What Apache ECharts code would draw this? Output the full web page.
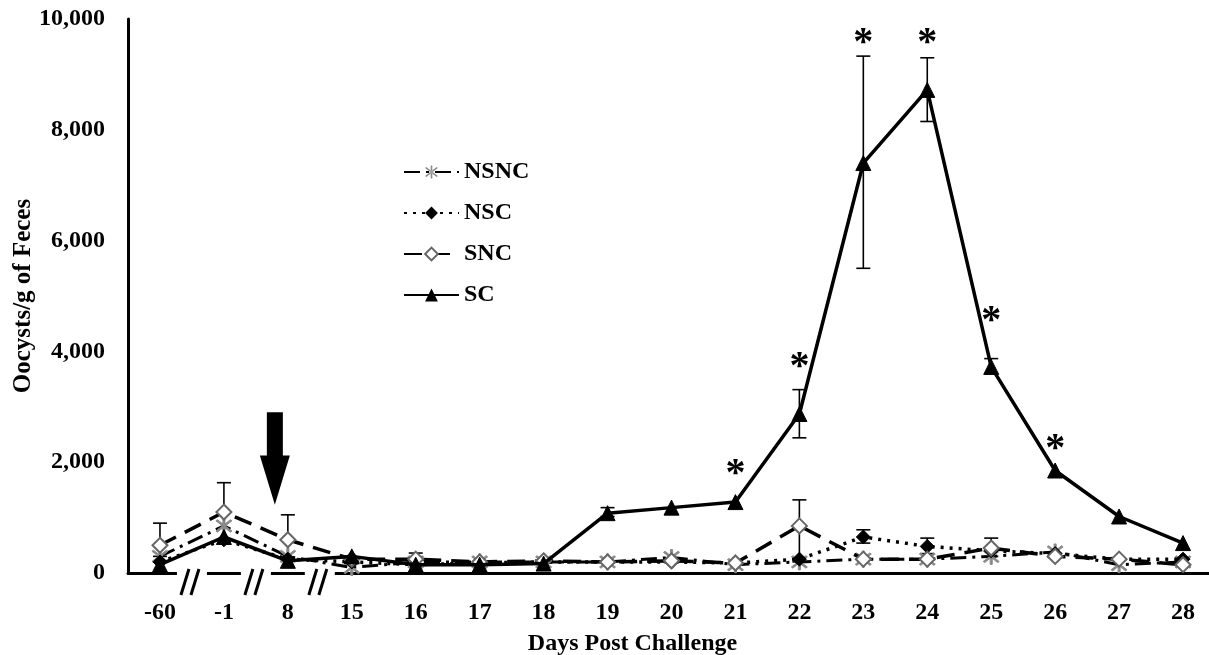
<!DOCTYPE html>
<html>
<head>
<meta charset="utf-8">
<script src="https://cdn.jsdelivr.net/npm/echarts@6/dist/echarts.min.js"></script>
<style>
  html, body { margin: 0; padding: 0; background: #fff; }
  #main { width: 1209px; height: 655px; }
</style>
</head>
<body>
<div id="main"></div>
<script>
// days post challenge (category axis)
var days = ['-60', '-1', '8', '15', '16', '17', '18', '19', '20', '21', '22', '23', '24', '25', '26', '27', '28'];

// oocysts / g of feces
var nsnc = [300, 850, 300, 100, 200, 200, 200, 200, 280, 150, 200, 250, 250, 300, 380, 150, 200];
var nsc  = [200, 600, 250, 200, 150, 180, 200, 200, 200, 180, 250, 650, 480, 400, 350, 250, 250];
var snc  = [500, 1100, 600, 250, 250, 200, 220, 200, 220, 180, 850, 250, 250, 450, 300, 250, 150];
var sc   = [150, 650, 220, 300, 150, 150, 170, 1080, 1180, 1280, 2870, 7400, 8720, 3720, 1850, 1020, 540];

// error bars: [day, low, high]
var errBars = [
  ['-60', 300, 900], ['-1', 600, 1630], ['8', 220, 1050], ['16', 150, 360],
  ['19', 1020, 1180], ['22', 2440, 3310], ['22', 200, 1320], ['23', 5500, 9330],
  ['23', 540, 780], ['24', 8150, 9300], ['24', 350, 630], ['25', 300, 630],
  ['25', 3600, 3870]
];

// significance stars: [day, position]
var stars = [['21', 1780], ['22', 3710], ['23', 9560], ['24', 9560], ['25', 4530], ['26', 2230]];

var yTicks = [0, 2000, 4000, 6000, 8000, 10000];

var FONT = 'Liberation Serif';
var asteriskPath = 'path://M-1,-10L1,-10L1,10L-1,10Z M6.36,7.78L7.78,6.36L-6.36,-7.78L-7.78,-6.36Z M7.78,-6.36L6.36,-7.78L-7.78,6.36L-6.36,7.78Z';

var myChart = echarts.init(document.getElementById('main'));

function lineSeries(name, data, symbol, size, symColor, lineType, lw, z) {
  return {
    name: name,
    type: 'line',
    data: data,
    symbol: symbol,
    symbolSize: size,
    z: z,
    itemStyle: { color: symColor, borderColor: symColor },
    lineStyle: { color: '#000', width: lw, type: lineType },
    emphasis: { disabled: true },
    animation: false
  };
}

var option = {
  animation: false,
  grid: { left: 128, top: 19, width: 1087, height: 554, outerBoundsMode: 'none', containLabel: false },
  legend: {
    orient: 'vertical',
    left: 398,
    top: 155,
    itemWidth: 55,
    itemHeight: 16,
    itemGap: 17,
    textStyle: { fontFamily: FONT, fontWeight: 'bold', fontSize: 24, color: '#000' },
    data: ['NSNC', 'NSC', 'SNC', 'SC']
  },
  xAxis: {
    type: 'category',
    data: days,
    boundaryGap: true,
    name: 'Days Post Challenge',
    nameLocation: 'middle',
    nameGap: 59,
    nameMoveOverlap: false,
    nameTextStyle: { fontFamily: FONT, fontWeight: 'bold', fontSize: 24, color: '#000', padding: [0, 78, 0, 0] },
    axisLine: { lineStyle: { color: '#000', width: 3 } },
    axisTick: { show: false },
    axisLabel: { interval: 0, margin: 28, fontFamily: FONT, fontWeight: 'bold', fontSize: 24, color: '#000' }
  },
  yAxis: {
    type: 'value',
    min: yTicks[0],
    max: yTicks[yTicks.length - 1],
    interval: yTicks[1] - yTicks[0],
    name: 'Oocysts/g of Feces',
    nameLocation: 'middle',
    nameGap: 92,
    nameMoveOverlap: false,
    nameTextStyle: { fontFamily: FONT, fontWeight: 'bold', fontSize: 25, color: '#000' },
    axisLine: { show: true, lineStyle: { color: '#000', width: 3 } },
    axisTick: { show: false },
    splitLine: { show: false },
    axisLabel: {
      margin: 23,
      fontFamily: FONT, fontWeight: 'bold', fontSize: 24, color: '#000',
      formatter: function (v) { return String(v).replace(/\B(?=(\d{3})+(?!\d))/g, ','); }
    }
  },
  series: [
    lineSeries('NSNC', nsnc, asteriskPath, 16, '#8a8a8a', [16, 6, 3, 6], 3, 3),
    lineSeries('NSC', nsc, 'diamond', 14, '#000', [3, 6], 3.5, 4),
    lineSeries('SNC', snc, 'emptyDiamond', 15, '#666', [18, 10], 3.5, 5),
    lineSeries('SC', sc, 'triangle', 15, '#000', 'solid', 3.5, 6),
    {
      type: 'custom',
      name: 'err',
      data: errBars,
      encode: { x: 0, y: [1, 2] },
      z: 2,
      silent: true,
      renderItem: function (params, api) {
        var lo = api.coord([api.value(0), api.value(1)]);
        var hi = api.coord([api.value(0), api.value(2)]);
        var st = { stroke: '#000', lineWidth: 1.6 };
        return {
          type: 'group',
          children: [
            { type: 'line', shape: { x1: lo[0], y1: lo[1], x2: hi[0], y2: hi[1] }, style: st },
            { type: 'line', shape: { x1: hi[0] - 7, y1: hi[1], x2: hi[0] + 7, y2: hi[1] }, style: st },
            { type: 'line', shape: { x1: lo[0] - 7, y1: lo[1], x2: lo[0] + 7, y2: lo[1] }, style: st }
          ]
        };
      }
    },
    {
      type: 'custom',
      name: 'stars',
      data: stars,
      encode: { x: 0, y: 1 },
      z: 7,
      silent: true,
      renderItem: function (params, api) {
        var p = api.coord([api.value(0), api.value(1)]);
        return {
          type: 'text',
          x: p[0], y: p[1],
          style: { text: '*', font: 'bold 40px "Liberation Serif"', fill: '#000', align: 'center', verticalAlign: 'middle' }
        };
      }
    }
  ]
};

myChart.setOption(option);

// axis breaks and the challenge arrow
(function () {
  var g = [];
  var axisY = myChart.convertToPixel({ yAxisIndex: 0 }, 0);
  for (var i = 0; i < 3; i++) {
    var xa = myChart.convertToPixel({ xAxisIndex: 0 }, days[i]);
    var xb = myChart.convertToPixel({ xAxisIndex: 0 }, days[i + 1]);
    var xm = (xa + xb) / 2;
    g.push({ type: 'rect', shape: { x: xm - 15, y: axisY - 3, width: 30, height: 6 }, style: { fill: '#fff' }, z: 100 });
    g.push({ type: 'line', shape: { x1: xm - 11, y1: axisY + 22, x2: xm - 3, y2: axisY - 4 }, style: { stroke: '#000', lineWidth: 3 }, z: 101 });
    g.push({ type: 'line', shape: { x1: xm - 1, y1: axisY + 22, x2: xm + 7, y2: axisY - 4 }, style: { stroke: '#000', lineWidth: 3 }, z: 101 });
  }
  var ax = myChart.convertToPixel({ xAxisIndex: 0 }, '8') - 13;
  var yTip = myChart.convertToPixel({ yAxisIndex: 0 }, 1230);
  var yTop = myChart.convertToPixel({ yAxisIndex: 0 }, 2900);
  var yNeck = myChart.convertToPixel({ yAxisIndex: 0 }, 2120);
  g.push({
    type: 'polygon',
    shape: { points: [[ax - 8, yTop], [ax + 8, yTop], [ax + 8, yNeck], [ax + 15, yNeck], [ax, yTip], [ax - 15, yNeck], [ax - 8, yNeck]] },
    style: { fill: '#000' },
    z: 100
  });
  myChart.setOption({ graphic: g });
})();
</script>
</body>
</html>
